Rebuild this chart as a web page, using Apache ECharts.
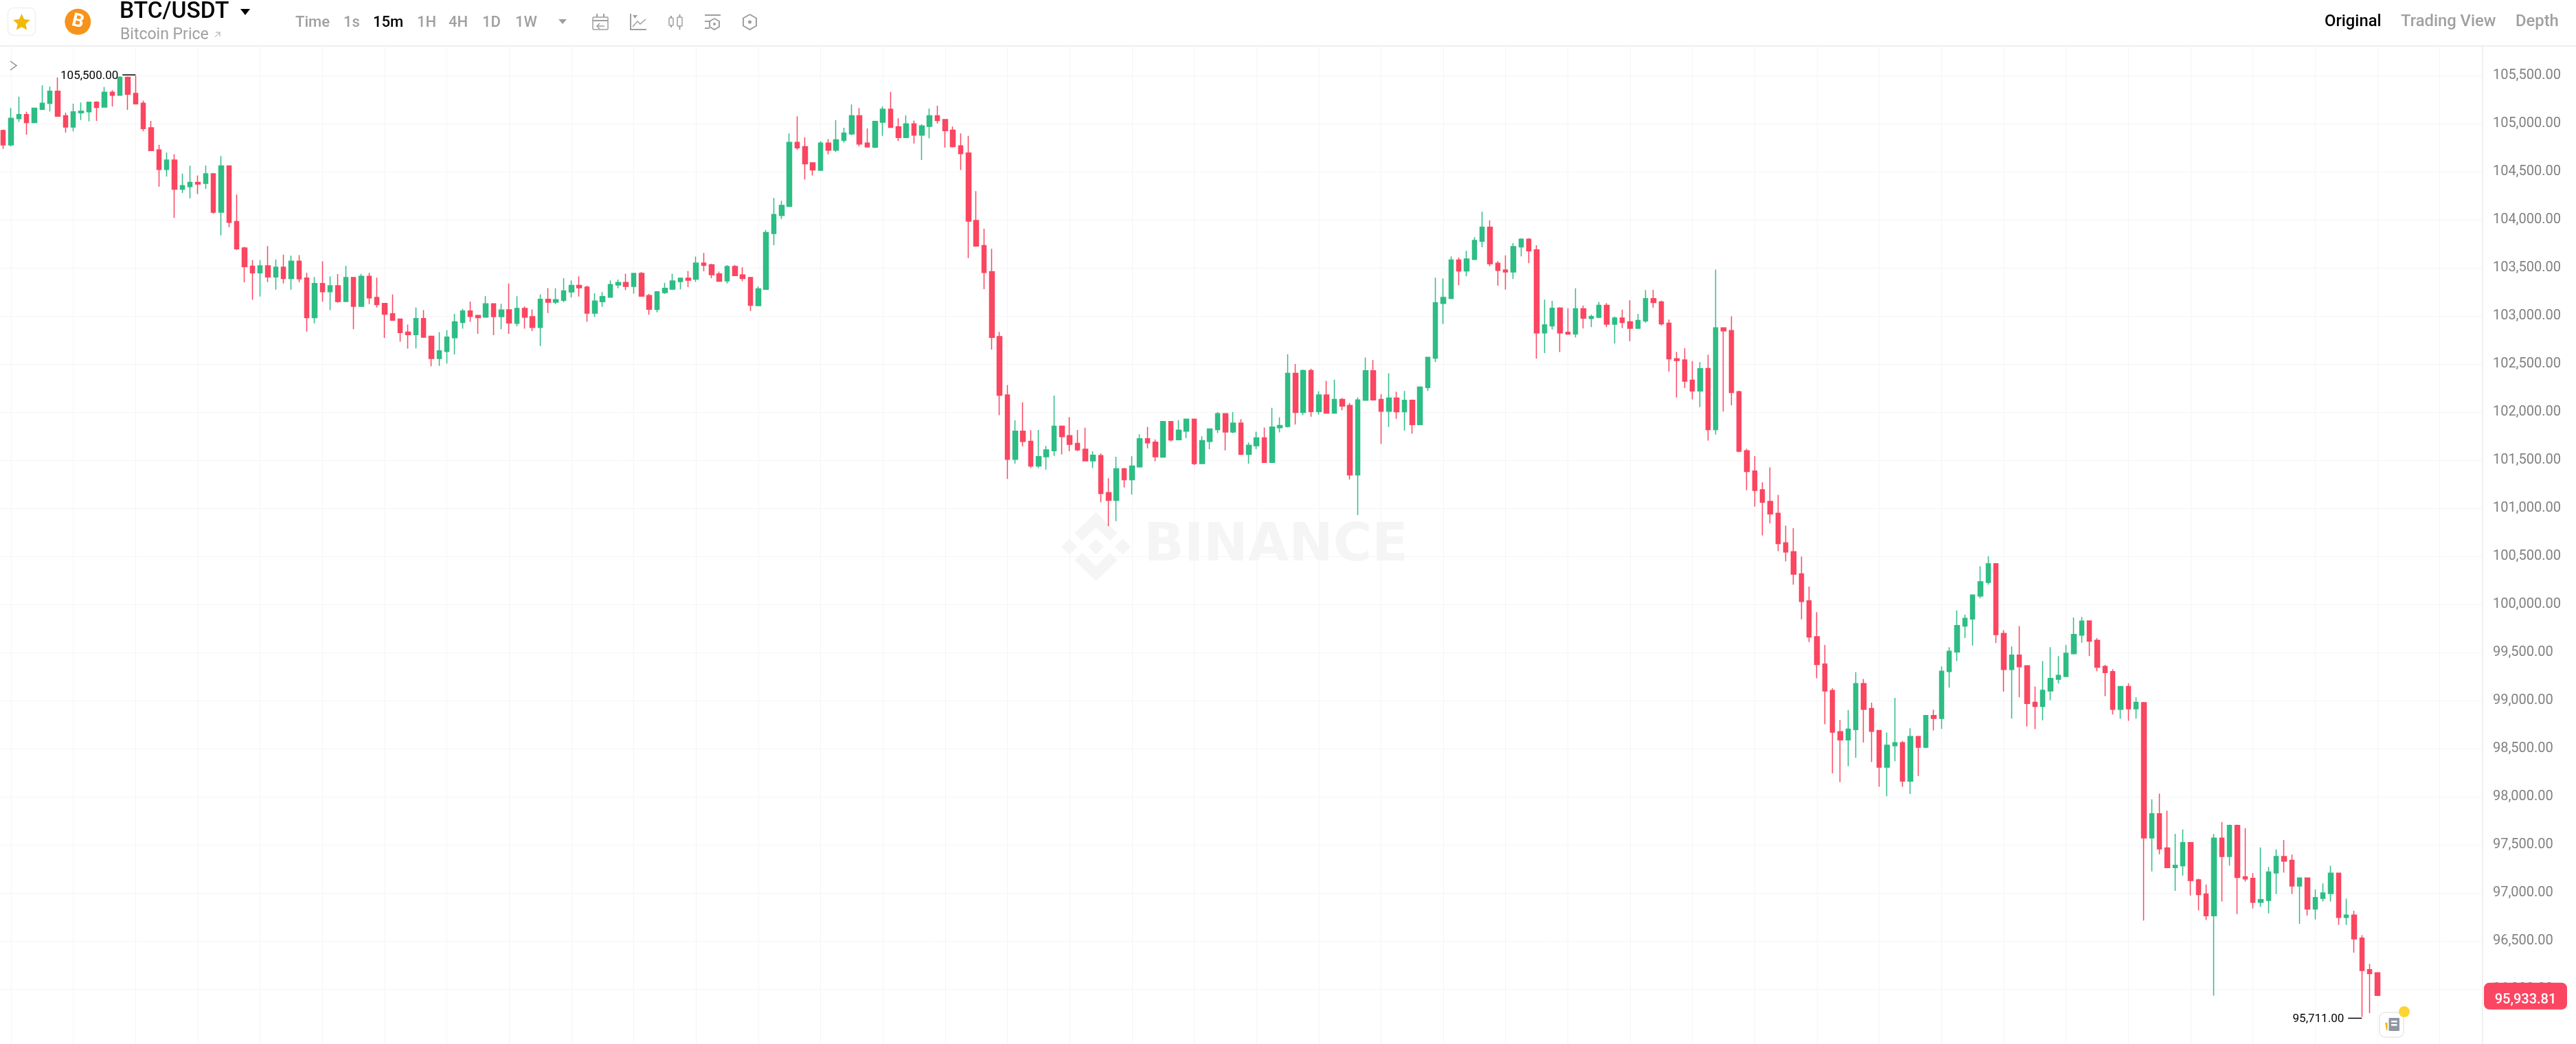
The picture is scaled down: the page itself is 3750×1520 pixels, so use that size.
<!DOCTYPE html>
<html>
<head>
<meta charset="utf-8">
<title>BTC/USDT</title>
<style>
  html, body { margin: 0; padding: 0; background: #fff; }
  #chart { width: 3750px; height: 1520px; }
</style>
<script src="https://cdn.jsdelivr.net/npm/echarts@6/dist/echarts.min.js"></script>
</head>
<body>
<div id="chart"></div>
<script>
  // 15m candles, oldest first
  const opens = [
    104929,104779,105052,105095,105010,105148,105210,105338,105083,104964,
    105112,105124,105224,105171,105326,105295,105483,105314,105212,104957,
    104726,104524,104621,104317,104345,104390,104379,104479,104079,104560,
    103983,103707,103517,103448,103521,103405,103507,103390,103569,103395,
    102983,103338,103252,103314,103150,103400,103100,103412,103193,103131,
    103024,102967,102833,102805,102974,102790,102557,102631,102774,102933,
    103052,103005,102988,103126,102993,103064,102924,103079,102993,102881,
    103174,103143,103162,103250,103317,103300,103029,103148,103195,103321,
    103348,103307,103443,103212,103067,103243,103279,103357,103393,103383,
    103550,103533,103438,103364,103514,103426,103400,103107,103276,103857,
    104045,104140,104805,104760,104593,104514,104798,104724,104826,104893,
    105083,104798,104755,105014,105150,104967,104855,104998,104881,104971,
    105083,105043,104933,104769,104695,103993,103733,103460,102786,102178,
    101509,101802,101697,101439,101535,101598,101853,101755,101675,101615,
    101493,101548,101162,101082,101410,101296,101430,101723,101688,101532,
    101901,101713,101802,101926,101465,101694,101818,101984,101793,101885,
    101560,101650,101732,101477,101838,101850,102404,101996,102433,102006,
    102178,101990,102133,102070,101347,102124,102430,102133,102009,102146,
    102003,102124,101869,102255,102560,103131,103182,103582,103468,103587,
    103776,103924,103549,103478,103458,103717,103799,103687,102823,102897,
    103083,102830,102813,103075,102974,102986,103111,102915,102979,102940,
    102872,102948,103180,103147,102925,102556,102543,102332,102220,102454,
    101817,102877,102849,102212,101598,101387,101193,101071,100949,100641,
    100549,100317,100037,99665,99380,99105,98677,98591,98698,99176,
    98917,98690,98308,98530,98563,98163,98626,98514,98845,98815,
    99301,99505,99775,99849,100088,100228,100424,99698,99324,99474,
    99362,98983,98939,99100,99222,99250,99487,99681,99828,99627,
    99355,99301,98909,99146,98914,98979,97571,97824,97467,97262,
    97283,97524,97136,96990,96762,97569,97379,97702,97167,97152,
    96902,96921,97207,97379,97340,97071,97155,96833,96943,96993,
    97205,96745,96769,96531,96202,96169
  ];
  const closes = [
    104779,105055,105095,105010,105160,105212,105338,105076,104964,105124,
    105131,105224,105167,105326,105295,105483,105305,105205,104948,104719,
    104524,104621,104317,104355,104390,104371,104479,104079,104560,103974,
    103698,103512,103448,103521,103405,103507,103390,103569,103386,102983,
    103338,103252,103314,103150,103400,103100,103412,103188,103117,103017,
    102955,102826,102805,102974,102779,102557,102638,102781,102940,103052,
    102995,102983,103126,102993,103062,102926,103079,102988,102881,103174,
    103143,103169,103260,103317,103293,103029,103155,103202,103326,103348,
    103307,103443,103205,103069,103252,103288,103364,103393,103371,103550,
    103526,103429,103360,103514,103419,103390,103110,103283,103867,104055,
    104150,104805,104748,104583,104517,104798,104724,104833,104902,105083,
    104788,104757,105024,105150,104960,104855,104998,104881,104976,105083,
    105033,104926,104760,104688,103986,103726,103452,102776,102175,101509,
    101802,101694,101439,101538,101608,101853,101745,101665,101608,101493,
    101551,101153,101082,101410,101296,101439,101723,101681,101535,101901,
    101710,101812,101926,101465,101704,101825,101984,101793,101885,101560,
    101656,101732,101477,101844,101860,102404,101996,102433,102006,102178,
    101990,102133,102063,101347,102127,102430,102127,102009,102146,102003,
    102124,101869,102261,102570,103137,103193,103582,103468,103592,103786,
    103924,103542,103473,103458,103722,103799,103677,102823,102907,103081,
    102823,102811,103075,102976,102994,103111,102915,102979,102933,102872,
    102953,103180,103139,102918,102553,102535,102322,102220,102451,101817,
    102877,102844,102204,101593,101382,101186,101063,100941,100633,100544,
    100315,100030,99660,99375,99100,98672,98591,98703,99176,98909,
    98680,98308,98535,98563,98163,98626,98514,98845,98815,99306,
    99513,99780,99856,100098,100236,100424,99686,99324,99474,99352,
    98970,98939,99108,99230,99263,99492,99688,99826,99617,99347,
    99291,98909,99146,98914,98983,97571,97824,97457,97262,97288,
    97524,97129,96983,96762,97569,97379,97702,97160,97145,96902,
    96931,97217,97379,97331,97071,97155,96833,96952,97000,97205,
    96745,96769,96521,96193,96160,95933.81
  ];
  const highs = [
    104940,105162,105281,105124,105165,105398,105386,105481,105114,105207,
    105219,105226,105233,105383,105348,105493,105490,105500,105240,105029,
    104781,104700,104683,104481,104562,104460,104564,104485,104662,104565,
    104262,103719,103581,103581,103726,103588,103638,103626,103633,103448,
    103405,103567,103410,103436,103521,103405,103438,103448,103398,103135,
    103224,102970,102910,103088,103060,102793,102833,102852,103021,103074,
    103150,103012,103207,103130,103126,103338,103205,103100,103067,103224,
    103290,103288,103393,103369,103410,103314,103236,103248,103369,103379,
    103440,103448,103457,103231,103257,103345,103440,103397,103467,103617,
    103655,103543,103460,103529,103531,103505,103405,103307,103895,104226,
    104198,104898,105076,104857,104598,104817,104840,105036,104957,105200,
    105162,104950,105031,105179,105331,105055,105086,105033,104993,105157,
    105186,105048,104969,104898,104874,104298,103907,103698,102834,102280,
    101914,102102,101812,101815,101649,102172,101860,101949,101815,101837,
    101592,101570,101312,101535,101420,101541,101770,101847,101716,101905,
    101905,101917,101930,101930,101748,101830,102000,101990,102000,101926,
    101684,101796,101840,102044,101946,102602,102500,102442,102452,102216,
    102325,102338,102146,102095,102153,102567,102541,102188,102404,102213,
    102220,102130,102265,102575,103398,103389,103620,103608,103677,103819,
    104084,103992,103570,103631,103758,103809,103809,103735,103170,103157,
    103091,103081,103287,103109,103014,103147,103134,102994,103065,103162,
    103022,103269,103272,103159,102963,102627,102665,102530,102520,102597,
    103483,102882,102996,102222,101619,101542,101270,101425,101140,100819,
    100793,100498,100185,99920,99579,99128,98799,98901,99296,99225,
    98978,98695,98667,99029,98580,98713,98630,98850,98906,99355,
    99556,99938,99895,100102,100396,100501,100430,99732,99563,99775,
    99366,99146,99411,99556,99462,99579,99864,99869,99833,99650,
    99372,99327,99150,99179,99034,98985,97974,98033,97855,97614,
    97660,97530,97148,97088,97612,97738,97710,97710,97674,97205,
    97474,97269,97452,97550,97398,97160,97160,97036,97098,97283,
    97210,96940,96814,96560,96262,96170
  ];
  const lows = [
    104738,104762,105017,104886,105005,105143,105126,105072,104907,104919,
    105038,105024,105029,105167,105179,105293,105143,105200,104921,104714,
    104345,104450,104019,104279,104224,104267,104321,104062,103838,103924,
    103686,103350,103167,103202,103352,103274,103338,103274,103350,102838,
    102924,103148,103060,103138,103145,102862,103095,103124,103088,102771,
    102950,102733,102660,102662,102771,102476,102481,102505,102600,102867,
    102940,102814,102985,102800,102862,102814,102893,102867,102843,102688,
    103031,103124,103143,103193,103202,102940,102990,103095,103190,103288,
    103267,103233,103200,103012,103038,103229,103269,103276,103300,103355,
    103464,103393,103357,103338,103415,103360,103052,103102,103272,103736,
    104007,104135,104726,104417,104460,104510,104681,104705,104802,104881,
    104762,104752,104745,104874,104955,104819,104850,104793,104621,104848,
    105002,104752,104752,104517,103602,103720,103279,102650,101968,101305,
    101465,101643,101417,101417,101401,101544,101560,101592,101595,101490,
    101417,101063,100815,100866,101216,101143,101423,101624,101490,101525,
    101694,101710,101729,101449,101460,101614,101783,101602,101780,101554,
    101465,101614,101471,101474,101790,101840,101872,101968,101952,101974,
    101985,101985,102019,101299,100930,102120,102120,101669,101844,101930,
    101809,101777,101865,102220,102519,102918,103175,103320,103412,103582,
    103715,103516,103315,103274,103384,103620,103549,102556,102614,102859,
    102625,102808,102777,102869,102884,102976,102884,102714,102874,102737,
    102868,102928,103086,102900,102421,102151,102250,102133,102052,101703,
    101766,102006,102072,101583,101188,101017,100717,100842,100554,100449,
    100205,99844,99609,99232,98754,98242,98152,98318,98405,98565,
    98361,98104,98005,98369,98104,98028,98216,98505,98690,98705,
    99136,99411,99650,99571,100065,100205,99599,99092,98812,99036,
    98731,98703,98794,99003,99179,99245,99480,99602,99462,99306,
    99046,98855,98810,98789,98812,96712,97224,97402,97258,97021,
    97181,96974,96819,96717,95933,96910,97283,96781,97117,96838,
    96855,96788,96988,97210,96990,96679,96764,96724,96910,96910,
    96667,96667,96379,95711,95750,95930
  ];

  // price axis ticks
  const priceTicks = [
    96000, 96500, 97000, 97500, 98000, 98500, 99000, 99500, 100000, 100500,
    101000, 101500, 102000, 102500, 103000, 103500, 104000, 104500, 105000, 105500,
  ];

  // header tabs
  const timeTabs = ['Time', '1s', '15m', '1H', '4H', '1D', '1W'];
  const viewTabs = ['Original', 'Trading View', 'Depth'];

  // empty slots right of the last candle, so the time scale runs up to the price axis
  const slotCount = 319;
  const slots = Array.from({ length: slotCount }, (_, i) => String(i));

  const UP = '#2ebd85';
  const DOWN = '#fb4661';
  const GRID = '#f5f5f5';
  const MUTED = '#a0a0a0';
  const ICON = '#9e9e9e';
  const MARK = '#f5f5f5';
  const FONT = 'Roboto, sans-serif';

  const fmt = (v) => v.toLocaleString('en-US', { minimumFractionDigits: 2, maximumFractionDigits: 2 });

  const chart = echarts.init(document.getElementById('chart'));

  chart.setOption({
    animation: false,
    backgroundColor: '#fff',
    // the price axis runs on below the visible window
    grid: { left: -1, right: 136.1, top: 68, bottom: -60, outerBoundsMode: 'none' },
    xAxis: {
      type: 'category',
      data: slots,
      axisLine: { show: false },
      axisTick: { show: false },
      axisLabel: { show: false },
      splitLine: {
        show: true,
        alignWithLabel: true,
        interval: (i) => i % 8 === 1,
        lineStyle: { color: GRID, width: 1 },
      },
    },
    yAxis: {
      type: 'value',
      position: 'right',
      min: 95000,
      max: 105800,
      axisLine: { show: true, lineStyle: { color: '#f0f0f0', width: 2 } },
      axisTick: { show: false, customValues: priceTicks },
      axisLabel: {
        customValues: priceTicks,
        margin: 15,
        padding: [4, 0, 0, 0],
        color: '#808080',
        fontFamily: FONT,
        fontSize: 20,
        formatter: (v) => fmt(v),
      },
      splitLine: { show: true, lineStyle: { color: GRID, width: 1 } },
    },
    series: [
      {
        type: 'candlestick',
        barWidth: 7,
        itemStyle: {
          color: UP,
          color0: DOWN,
          borderColor: UP,
          borderColor0: DOWN,
          borderWidth: 1.5,
        },
        data: opens.map((o, i) => [o, closes[i], lows[i], highs[i]]),
      },
    ],
  });

  // small helpers for the header drawing
  const text = (t, x, y, size, fill, weight, align) => ({
    type: 'text',
    x,
    y,
    z: 20,
    style: {
      text: t,
      fontSize: size,
      fontWeight: weight || 400,
      fontFamily: FONT,
      fill,
      align: align || 'left',
      verticalAlign: 'middle',
    },
  });
  const stroke = (points, color, width) => ({
    type: 'polyline',
    z: 20,
    shape: { points },
    style: { stroke: color || ICON, lineWidth: width || 2, fill: null },
  });
  const poly = (points, fill, z) => ({
    type: 'polygon',
    z: z === undefined ? 20 : z,
    shape: { points },
    style: { fill },
  });
  const box = (x, y, width, height, r, fill, line) => ({
    type: 'rect',
    z: 20,
    shape: { x, y, width, height, r },
    style: { fill: fill || null, stroke: line || null, lineWidth: line ? 1.5 : 0 },
  });
  const hexagon = (cx, cy, r) => {
    const pts = [];
    for (let k = 0; k <= 6; k++) {
      const a = (Math.PI / 3) * k - Math.PI / 2;
      pts.push([cx + r * Math.cos(a), cy + r * Math.sin(a)]);
    }
    return pts;
  };
  const star = (cx, cy, r) => {
    const pts = [];
    for (let k = 0; k < 10; k++) {
      const a = (Math.PI / 5) * k - Math.PI / 2;
      const rr = k % 2 ? r * 0.48 : r;
      pts.push([cx + rr * Math.cos(a), cy + rr * Math.sin(a)]);
    }
    return pts;
  };

  // watermark, offset from the logo centre
  const logo = (dx, dy, pts) => poly(pts.map(([x, y]) => [1595.5 + x + dx, 796 + y + dy]), MARK, 0);
  const diamond = [[0, -11.5], [11.6, 0], [0, 11.5], [-11.6, 0]];
  const watermark = [
    logo(0, 0, [[0, -50], [31, -20], [20.5, -8.7], [0, -28.3], [-20.5, -8.7], [-31, -20]]),
    logo(0, 0, [[0, 50], [31, 20], [20.5, 8.7], [0, 28.3], [-20.5, 8.7], [-31, 20]]),
    logo(0, 0, diamond),
    logo(-39, 0, diamond),
    logo(39, 0, diamond),
    {
      type: 'text',
      x: 1665,
      y: 796,
      z: 0,
      style: {
        text: 'BINANCE',
        fontSize: 77,
        fontWeight: 700,
        fontFamily: '"DejaVu Sans", sans-serif',
        fill: MARK,
        verticalAlign: 'middle',
      },
    },
  ];

  const timeX = [430, 500, 543, 607, 653, 702, 750];
  const header = [
    box(0, 0, 3750, 66, 0, '#fff'),
    box(0, 66, 3750, 2, 0, '#eeeeee'),
    box(11.5, 11.5, 40, 40, 8, '#fff', '#f0f0f0'),
    poly(star(31.5, 33, 13), '#f0b90b'),
    { type: 'circle', z: 20, shape: { cx: 113.3, cy: 31.7, r: 19 }, style: { fill: '#f7931a' } },
    {
      type: 'text',
      x: 113.3,
      y: 32,
      z: 21,
      rotation: -0.24,
      style: {
        text: 'B',
        fontSize: 27,
        fontWeight: 700,
        fontFamily: FONT,
        fill: '#fff',
        align: 'center',
        verticalAlign: 'middle',
      },
    },
    text('BTC/USDT', 174, 18, 33.5, '#000', 500),
    poly([[350, 13], [364, 13], [357, 22]], '#000'),
    text('Bitcoin Price', 175, 51, 23, MUTED, 400),
    stroke([[313, 54], [320, 47]], MUTED, 1),
    stroke([[314, 47], [320, 47], [320, 53]], MUTED, 1),
    poly([[813, 28], [825, 28], [819, 35]], ICON),
    // calendar
    box(863, 25, 22, 18, 1, null, ICON),
    stroke([[863, 30], [885, 30]]),
    stroke([[869, 20], [869, 25]]),
    stroke([[879, 20], [879, 25]]),
    stroke([[880, 38], [869, 38]], ICON, 1.5),
    stroke([[873, 34], [869, 38], [873, 42]], ICON, 1.5),
    // chart type
    stroke([[918, 20], [918, 43], [941, 43]]),
    stroke([[921, 39], [928, 31], [932, 35], [940, 28]], ICON, 1.5),
    poly([[921, 22], [928, 22], [924.5, 27]], ICON),
    // candles
    box(974, 26, 6, 11, 1, null, ICON),
    stroke([[977, 23], [977, 26]]),
    stroke([[977, 37], [977, 40]]),
    box(986, 25, 7, 13, 1, null, ICON),
    stroke([[989.5, 21], [989.5, 25]]),
    stroke([[989.5, 38], [989.5, 43]]),
    // indicators
    stroke([[1026, 22], [1049, 22]]),
    stroke([[1026, 31], [1033, 31]]),
    stroke([[1026, 41], [1033, 41]]),
    stroke(hexagon(1040, 35, 8)),
    { type: 'circle', z: 20, shape: { cx: 1040, cy: 35, r: 2 }, style: { fill: ICON } },
    // settings
    stroke(hexagon(1091.5, 32, 11)),
    { type: 'circle', z: 20, shape: { cx: 1091.5, cy: 32, r: 2.5 }, style: { fill: ICON } },
    // sidebar chevron
    stroke([[15, 89], [24, 95.5], [15, 102]], '#8a8a8a', 1.5),
  ];
  timeTabs.forEach((t, i) => {
    const on = t === '15m';
    header.push(text(t, timeX[i], 33, 22, on ? '#000' : MUTED, 500));
  });
  const viewX = [3384, 3495, 3662];
  viewTabs.forEach((t, i) => {
    header.push(text(t, viewX[i], 32, 23.8, i === 0 ? '#000' : MUTED, 500));
  });

  // high / low flags and last price tag sit on the data
  const topPrice = Math.max(...highs);
  const lowPrice = Math.min(...lows);
  const topIdx = highs.indexOf(topPrice);
  const lowIdx = lows.indexOf(lowPrice);
  const lastPrice = closes[closes.length - 1];
  const topPt = chart.convertToPixel({ seriesIndex: 0 }, [topIdx, topPrice]);
  const lowPt = chart.convertToPixel({ seriesIndex: 0 }, [lowIdx, lowPrice]);
  const lastY = chart.convertToPixel({ yAxisIndex: 0 }, lastPrice);

  const flags = [
    stroke([[topPt[0] - 19, topPt[1] - 1], [topPt[0], topPt[1] - 1]], '#000', 1.5),
    text(fmt(topPrice), topPt[0] - 25, topPt[1] + 1, 17, '#000', 400, 'right'),
    stroke([[lowPt[0] - 20, lowPt[1] + 2], [lowPt[0], lowPt[1] + 2]], '#000', 1.5),
    text(fmt(lowPrice), lowPt[0] - 26, lowPt[1] + 3, 17, '#000', 400, 'right'),
    box(3616, lastY - 18.5, 121, 39, 8, DOWN),
    text(fmt(lastPrice), 3676.5, lastY + 7, 20, '#fff', 500, 'center'),
  ];

  // news button
  const news = [
    box(3464, 1474, 35, 36, 8, '#fff', '#e8e8e8'),
    box(3477.5, 1482, 15.5, 19, 1, '#8f96a3'),
    box(3481, 1486, 8.5, 2.5, 0, '#fff'),
    box(3481, 1491, 8.5, 2.5, 0, '#fff'),
    poly([[3472, 1489], [3475.5, 1489], [3475.5, 1500], [3474, 1500]], '#f0b90b'),
    { type: 'circle', z: 20, shape: { cx: 3500, cy: 1473, r: 8 }, style: { fill: '#fcd535' } },
  ];

  chart.setOption({ graphic: { elements: [...watermark, ...header, ...flags, ...news] } });
</script>
</body>
</html>
